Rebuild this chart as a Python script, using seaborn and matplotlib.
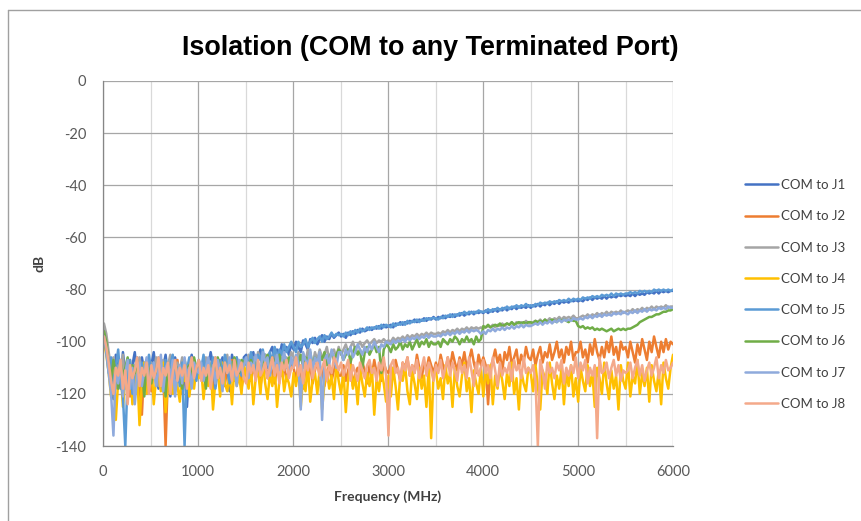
import numpy as np
import pandas as pd
import matplotlib
matplotlib.use("Agg")
import matplotlib.pyplot as plt
import seaborn as sns
from matplotlib.lines import Line2D

# ---------------- data ----------------
FREQ_MHZ = np.linspace(10, 6000, 241)

SERIES = ["COM to J1", "COM to J2", "COM to J3", "COM to J4",
          "COM to J5", "COM to J6", "COM to J7", "COM to J8"]

J1 = [-95, -99, -108, -114, -122, -105, -110, -118, -104, -112, -107, -116, -109, -104, -113, -120, -106, -111, -108, -115,
      -109, -104, -112, -118, -107, -110, -105, -113, -121, -108, -106, -111, -115, -107, -112, -125, -109, -105, -110, -114,
      -108, -112, -106, -115, -110, -104, -109, -117, -107, -111, -106, -113, -108, -119, -105, -110, -107, -112, -115, -106,
      -105, -109, -107, -104, -111, -106, -103, -108, -105, -110, -104, -102, -107, -103, -106, -101, -104, -102, -105, -101,
      -103, -100, -102, -104, -99.5, -101, -103, -99, -100.5, -98.5, -101, -99, -97.5, -100, -98, -99, -97, -98.5, -97.5, -96.5,
      -98, -97, -98.5, -96.5, -97.5, -96, -97, -95.5, -96.5, -95, -96, -95.5, -94.5, -95.5, -94.5, -95, -94, -95, -93.5, -94.5,
      -94, -93.5, -94.5, -93, -93.5, -92.5, -93.5, -92.5, -93, -92, -92.5, -91.5, -92.5, -91.5, -92, -91, -92, -91, -91.5, -90.5,
      -91.5, -90.5, -91, -90, -91, -90, -90.5, -89.5, -90.5, -89.5, -90, -89, -90, -89, -89.5, -88.5, -89.5, -88.5, -89, -88.5,
      -89, -88, -89, -88, -88.5, -87.5, -88.5, -87.5, -88, -87, -88, -87, -87.5, -86.5, -87.5, -86.5, -87, -86.5, -87, -86,
      -87, -86, -86.5, -85.5, -86.5, -85.5, -86, -85, -86, -85, -85.5, -84.5, -85.5, -84.5, -85, -84.5, -85, -84, -84.5, -84,
      -84.5, -84, -84.5, -83.5, -84, -83, -84, -83, -83.5, -83, -83.5, -82.5, -83.5, -82.5, -83, -82.5, -83, -82, -82.5, -82,
      -82.5, -82, -82.5, -81.5, -82.5, -81.5, -82, -81.5, -82, -81, -81.5, -81, -81.5, -80.5, -81.5, -80.5, -81, -80.5, -81, -80.5,
      -80.5]

J2 = [-97, -100, -106, -113, -109, -118, -111, -107, -116, -112, -108, -121, -110, -114, -107, -117, -128, -109, -113, -108,
      -119, -110, -114, -108, -116, -111, -140, -112, -109, -117, -111, -107, -115, -120, -110, -113, -108, -116, -111, -109,
      -110, -113, -108, -116, -111, -109, -120, -112, -108, -114, -110, -117, -109, -113, -107, -115, -111, -108, -118, -112,
      -111, -107, -115, -110, -113, -108, -117, -111, -109, -114, -108, -112, -116, -110, -107, -113, -109, -115, -111, -108,
      -110, -115, -108, -112, -118, -110, -113, -109, -116, -111, -107, -114, -110, -117, -112, -109, -115, -111, -108, -113,
      -113, -109, -115, -111, -108, -117, -112, -110, -114, -108, -111, -116, -109, -113, -107, -112, -110, -115, -108, -111,
      -112, -109, -114, -107, -111, -115, -108, -110, -106, -113, -109, -112, -105, -110, -114, -108, -111, -106, -109, -112,
      -108, -111, -105, -109, -112, -106, -110, -104, -108, -111, -106, -109, -104, -110, -107, -103, -108, -112, -105, -109,
      -106, -109, -124, -110, -107, -103, -108, -105, -111, -104, -107, -102, -109, -106, -103, -110, -105, -108, -102, -106,
      -107, -103, -109, -105, -102, -108, -104, -106, -101, -107, -104, -100, -106, -103, -108, -102, -105, -100, -107, -104,
      -104, -100, -106, -103, -108, -101, -105, -99, -104, -107, -102, -106, -100, -104, -98, -105, -102, -107, -100, -103,
      -102, -106, -100, -104, -108, -101, -105, -99, -103, -107, -100, -104, -98, -102, -106, -100, -104, -99, -103, -100,
      -101]

J3 = [-93, -97, -104, -110, -106, -116, -109, -112, -105, -118, -111, -107, -114, -109, -120, -106, -112, -108, -115, -110,
      -108, -113, -106, -117, -110, -107, -114, -109, -105, -112, -116, -108, -111, -106, -113, -109, -119, -107, -110, -112,
      -107, -111, -109, -106, -113, -108, -111, -106, -110, -107, -114, -109, -105, -112, -108, -110, -106, -113, -109, -107,
      -109, -105, -108, -106, -111, -104, -107, -109, -105, -108, -110, -106, -104, -109, -107, -105, -110, -106, -108, -104,
      -106, -109, -104, -107, -105, -108, -103, -106, -109, -104, -107, -103, -106, -105, -102, -107, -104, -103, -106, -102,
      -105, -103, -101, -104, -102, -100, -103, -101.5, -100, -102, -100.5, -99.5, -101, -100, -99, -100.5, -99.5, -100, -99, -100,
      -99.5, -100, -98.5, -99.5, -98.5, -99, -98, -99, -97.5, -98.5, -97.5, -98, -97, -98, -97, -97.5, -96.5, -97.5, -96.5, -97,
      -97, -96.5, -97, -96, -96.5, -95.5, -96.5, -95.5, -96, -95, -96, -95, -95.5, -94.5, -95.5, -94.5, -95, -94.5, -95, -94.5,
      -95, -94.5, -94, -94.5, -93.5, -94.5, -93.5, -94, -93, -94, -93, -93.5, -92.5, -93.5, -92.5, -93, -92.5, -93, -92, -93,
      -93, -92.5, -92, -92.5, -91.5, -92.5, -91.5, -92, -91, -92, -91, -91.5, -90.5, -91.5, -90.5, -91, -90.5, -91, -90, -91,
      -91, -90.5, -90, -90.5, -89.5, -90.5, -89.5, -90, -89, -90, -89, -89.5, -88.5, -89.5, -88.5, -89, -88.5, -89, -88, -89,
      -88.5, -88, -88.5, -87.5, -88.5, -87.5, -88, -87, -88, -87, -87.5, -86.5, -87.5, -86.5, -87, -86.5, -87, -86, -87, -86.5,
      -86.5]

J4 = [-100, -105, -112, -121, -108, -130, -115, -110, -125, -113, -118, -109, -124, -114, -111, -132, -116, -108, -120, -113,
      -109, -124, -114, -111, -119, -108, -127, -116, -112, -120, -110, -117, -123, -111, -115, -109, -121, -113, -118, -110,
      -114, -110, -122, -113, -117, -109, -126, -115, -111, -121, -108, -116, -119, -112, -124, -110, -117, -113, -120, -109,
      -113, -118, -109, -124, -114, -111, -120, -108, -116, -122, -112, -117, -110, -125, -115, -109, -119, -113, -116, -121,
      -112, -117, -110, -125, -114, -119, -109, -123, -115, -112, -120, -110, -126, -116, -111, -118, -113, -122, -109, -115,
      -120, -111, -127, -114, -109, -118, -113, -124, -110, -116, -121, -112, -117, -110, -128, -114, -119, -111, -116, -123,
      -113, -121, -110, -117, -126, -112, -115, -109, -119, -124, -111, -116, -122, -110, -118, -113, -125, -109, -137, -112,
      -111, -118, -114, -122, -109, -116, -112, -125, -110, -117, -121, -113, -108, -119, -114, -127, -111, -116, -120, -110,
      -121, -111, -116, -109, -124, -113, -118, -110, -115, -122, -112, -117, -108, -120, -114, -126, -111, -116, -119, -110,
      -112, -119, -109, -117, -126, -111, -114, -120, -108, -116, -122, -113, -118, -110, -124, -112, -117, -109, -121, -114,
      -123, -110, -115, -119, -109, -117, -112, -125, -110, -114, -120, -108, -116, -122, -111, -118, -113, -126, -109, -115,
      -118, -108, -121, -113, -116, -107, -120, -112, -117, -110, -123, -109, -115, -119, -111, -124, -108, -114, -118, -110,
      -105]

J5 = [-97, -104, -112, -106, -118, -110, -103, -115, -121, -140, -113, -107, -120, -111, -106, -114, -108, -117, -110, -105,
      -112, -108, -116, -106, -110, -119, -107, -113, -109, -105, -114, -110, -117, -108, -140, -111, -106, -113, -109, -115,
      -107, -111, -105, -114, -109, -112, -106, -118, -110, -107, -113, -105, -109, -116, -108, -111, -106, -110, -113, -107,
      -106, -110, -104, -108, -112, -105, -107, -103, -109, -106, -104, -108, -102, -106, -103, -105, -101, -104, -102, -100,
      -102, -104, -100, -102, -101, -99, -102, -100, -98.5, -100.5, -99, -98, -100, -97.5, -99, -98, -96.5, -98, -97, -97.5,
      -97, -98, -96.5, -97.5, -96, -97, -95.5, -96.5, -95, -96, -95.5, -94.5, -95.5, -94.5, -95, -94, -95, -93.5, -94.5, -93.5,
      -94, -94.5, -93, -94, -93, -93.5, -92.5, -93.5, -92, -93, -92, -92.5, -91.5, -92.5, -91.5, -92, -91, -91.5, -91, -91,
      -91, -91.5, -90.5, -91, -90, -90.5, -89.5, -90.5, -89.5, -90, -89, -89.5, -88.5, -89.5, -88.5, -89, -88.5, -89, -88, -88.5,
      -88.5, -88.5, -87.5, -88.5, -87.5, -88, -87, -88, -87, -87.5, -86.5, -87.5, -86.5, -87, -86, -87, -86, -86.5, -85.5, -86.5,
      -86, -86.5, -85.5, -86, -85, -85.5, -85, -85.5, -84.5, -85, -84.5, -85, -84, -84.5, -84, -84.5, -83.5, -84.5, -83.5, -84,
      -83.5, -84, -83, -83.5, -83, -83.5, -82.5, -83, -82.5, -83, -82, -82.5, -82, -82.5, -81.5, -82.5, -81.5, -82, -81.5, -82,
      -81.5, -81.5, -81, -81.5, -81, -81.5, -80.5, -81, -80.5, -81, -80.5, -81, -80, -80.5, -80, -80.5, -80, -80.5, -80, -80.5,
      -80]

J6 = [-96, -100, -109, -115, -107, -112, -118, -108, -113, -110, -106, -116, -109, -112, -107, -114, -110, -121, -108, -111,
      -116, -109, -112, -107, -114, -110, -121, -108, -111, -113, -108, -112, -110, -118, -107, -111, -109, -113, -106, -110,
      -108, -112, -110, -118, -107, -111, -109, -113, -106, -110, -115, -108, -111, -107, -110, -106, -109, -112, -107, -108,
      -108, -111, -107, -110, -106, -109, -112, -107, -108, -105, -110, -106, -108, -111, -105, -109, -107, -110, -106, -108,
      -109, -106, -108, -105, -110, -106, -107, -104, -109, -106, -108, -105, -107, -104, -109, -106, -104, -107, -105, -103,
      -104, -107, -105, -103, -108, -104, -102, -105, -103, -110, -104, -102, -105, -103, -101, -104, -102, -112, -103, -101,
      -102, -104, -101, -103, -102, -100, -103, -101, -102, -100, -103, -101, -99, -102, -100, -101, -99, -102, -100, -101,
      -101, -100, -102, -99, -100, -101, -99, -100, -98, -99, -101, -99, -100, -98, -100, -99, -101, -98, -100, -99,
      -94, -94.5, -93.5, -94.5, -94, -93.5, -94, -93, -94, -93.5, -93, -93.5, -92.5, -93.5, -93, -92.5, -93, -92.5, -93, -92.5,
      -92.5, -93, -92, -92.5, -92, -92.5, -91.5, -92.5, -92, -91.5, -92, -92.5, -91.5, -92, -91.5, -92, -92.5, -91.5, -92, -92,
      -94, -94.5, -94, -95, -94.5, -95, -94.5, -95.5, -95, -95.5, -95, -95.5, -96, -95.5, -95, -96, -95.5, -95, -95.5, -95,
      -95.5, -95, -95, -94.5, -94, -93.5, -92.5, -92, -91.5, -91, -90.5, -90.5, -90, -89.5, -89.5, -89, -88.5, -88.5, -88, -88,
      -87.5]

J7 = [-98, -103, -112, -120, -136, -110, -116, -108, -121, -112, -107, -118, -110, -124, -113, -108, -117, -111, -106, -115,
      -113, -108, -117, -111, -105, -119, -110, -108, -114, -107, -121, -112, -109, -116, -106, -113, -110, -118, -108, -111,
      -112, -108, -115, -110, -106, -113, -109, -116, -107, -111, -119, -108, -112, -106, -114, -110, -117, -107, -111, -109,
      -106, -114, -108, -110, -105, -109, -112, -104, -108, -106, -113, -107, -110, -105, -111, -108, -104, -109, -112, -106,
      -110, -105, -108, -126, -104, -107, -109, -103, -111, -106, -108, -104, -130, -107, -105, -109, -103, -106, -110, -104,
      -104, -107, -103, -105, -102, -106, -104, -101, -103, -105, -102, -104, -101, -103, -100, -102, -104, -101, -102, -100,
      -100.5, -101, -99.5, -100.5, -99.5, -100, -99, -100, -98.5, -99.5, -98.5, -99, -98, -99, -98, -98.5, -97.5, -98.5, -97.5, -98,
      -98, -97.5, -98, -97, -97.5, -96.5, -97.5, -96.5, -97, -96, -97, -96, -96.5, -95.5, -96.5, -95.5, -96, -95.5, -96, -97,
      -96, -97, -95.5, -96, -95, -96, -95, -95.5, -94.5, -95.5, -94.5, -95, -94, -95, -94, -94.5, -93.5, -94.5, -93.5, -94,
      -94, -93.5, -93, -93.5, -92.5, -93.5, -92.5, -93, -92, -93, -92, -92.5, -91.5, -92.5, -91.5, -92, -91.5, -92, -91, -91.5,
      -91.5, -91, -91.5, -90.5, -91, -90, -91, -90, -90.5, -89.5, -90.5, -89.5, -90, -89.5, -90, -89, -89.5, -89, -89.5, -88.5,
      -89, -89.5, -88.5, -89, -88, -89, -88, -88.5, -87.5, -88.5, -87.5, -88, -87.5, -88, -87, -87.5, -87, -87.5, -86.5, -87,
      -87]

J8 = [-98, -102, -108, -115, -120, -110, -113, -107, -118, -111, -124, -109, -114, -111, -106, -117, -110, -113, -108, -120,
      -109, -114, -111, -106, -117, -110, -113, -108, -120, -112, -107, -115, -110, -113, -109, -118, -111, -106, -114, -110,
      -107, -115, -110, -113, -109, -118, -111, -106, -114, -110, -116, -108, -112, -109, -115, -107, -113, -111, -108, -114,
      -116, -108, -112, -109, -115, -107, -113, -111, -108, -114, -110, -106, -113, -109, -116, -108, -111, -107, -114, -110,
      -110, -106, -113, -109, -116, -108, -111, -107, -114, -110, -108, -113, -110, -107, -115, -109, -112, -106, -108, -111,
      -108, -113, -110, -107, -115, -109, -112, -115, -108, -111, -114, -109, -107, -112, -110, -115, -108, -111, -106, -113,
      -136, -109, -107, -112, -110, -115, -108, -111, -106, -113, -109, -112, -107, -114, -110, -106, -113, -108, -111, -115,
      -109, -112, -107, -114, -110, -106, -113, -108, -111, -115, -107, -112, -109, -114, -106, -111, -117, -108, -113, -110,
      -107, -112, -109, -114, -106, -111, -117, -108, -113, -110, -112, -108, -115, -107, -111, -109, -114, -106, -112, -110,
      -112, -109, -115, -140, -107, -111, -118, -108, -112, -110, -114, -108, -111, -107, -116, -110, -113, -109, -112, -106,
      -114, -108, -111, -107, -116, -110, -113, -109, -137, -106, -112, -111, -108, -114, -110, -107, -113, -109, -115, -111,
      -112, -111, -108, -114, -110, -107, -113, -109, -115, -111, -108, -113, -110, -106, -114, -109, -112, -107, -111, -110,
      -108]

VALUES = [J1, J2, J3, J4, J5, J6, J7, J8]
COLORS = ["#4472C4", "#ED7D31", "#A5A5A5", "#FFC000",
          "#5B9BD5", "#70AD47", "#8FAADC", "#F4A98A"]

X_TICKS = [0, 1000, 2000, 3000, 4000, 5000, 6000]
Y_TICKS = [0, -20, -40, -60, -80, -100, -120, -140]

# ---------------- build long table ----------------
frames = []
for name, vals in zip(SERIES, VALUES):
    n = min(len(vals), len(FREQ_MHZ))
    frames.append(pd.DataFrame({"freq": FREQ_MHZ[:n], "dB": vals[:n], "series": name}))
df = pd.concat(frames, ignore_index=True)

sns.set_theme(style="white")
plt.rcParams["font.family"] = ["Lato", "DejaVu Sans"]

W, H = 861, 521
fig = plt.figure(figsize=(W / 100, H / 100), dpi=100)
ax = fig.add_axes([103 / W, 1 - 446 / H, (673 - 103) / W, (446 - 81) / H])

sns.lineplot(data=df, x="freq", y="dB", hue="series", hue_order=SERIES,
             palette=COLORS, linewidth=1.8, ax=ax, legend=False,
             estimator=None, sort=False)

ax.set_xlim(0, 6000)
ax.set_ylim(-140, 0)
ax.set_xticks(X_TICKS)
ax.set_xticks([500, 1500, 2500, 3500, 4500, 5500], minor=True)
ax.set_yticks(Y_TICKS)
ax.set_xticklabels([str(t) for t in X_TICKS])
ax.set_yticklabels([str(t) for t in Y_TICKS])

ax.grid(True, axis="y", which="major", color="#A6A6A6", linewidth=0.9)
ax.grid(True, axis="x", which="major", color="#A6A6A6", linewidth=0.9)
ax.grid(True, axis="x", which="minor", color="#D9D9D9", linewidth=0.9)
ax.set_axisbelow(True)

for s in ["top", "right"]:
    ax.spines[s].set_visible(False)
for s in ["left", "bottom"]:
    ax.spines[s].set_color("#868686")
    ax.spines[s].set_linewidth(0.9)

ax.tick_params(axis="both", which="major", direction="out", length=5,
               width=0.9, color="#868686", labelsize=10.5,
               labelcolor="#595959")
ax.tick_params(axis="x", which="major", pad=9)
ax.tick_params(axis="y", which="major", pad=7)
ax.tick_params(axis="x", which="minor", length=0)

ax.set_xlabel("Frequency (MHz)", fontsize=10, fontweight="bold",
              color="#404040", va="center")
ax.xaxis.set_label_coords((388 - 103) / 570, -(497 - 446) / 365)
ax.set_ylabel("dB", fontsize=10, fontweight="bold", color="#404040",
              va="center")
ax.yaxis.set_label_coords(-(103 - 40) / 570, 0.5)

fig.text(0.5, 1 - 48 / H, "Isolation (COM to any Terminated Port)",
         ha="center", va="center", fontsize=19.4, fontweight="bold",
         family=["Liberation Sans", "DejaVu Sans"], color="black")

handles = [Line2D([0], [0], color=c, linewidth=1.8) for c in COLORS]
fig.legend(handles, SERIES, loc="upper left",
           bbox_to_anchor=(745 / W, 1 - 179 / H), frameon=False,
           borderpad=0, borderaxespad=0,
           fontsize=9.5, handlelength=2.5, handletextpad=0.25,
           labelspacing=1.46, labelcolor="#404040")

# chart-area border (left and top edges visible)
fig.add_artist(Line2D([7.5 / W, 7.5 / W], [0, 1 - 9.5 / H],
                      transform=fig.transFigure, color="#A0A0A0", linewidth=1))
fig.add_artist(Line2D([7.5 / W, 1], [1 - 9.5 / H, 1 - 9.5 / H],
                      transform=fig.transFigure, color="#A0A0A0", linewidth=1))

fig.savefig("out.png", dpi=100)
